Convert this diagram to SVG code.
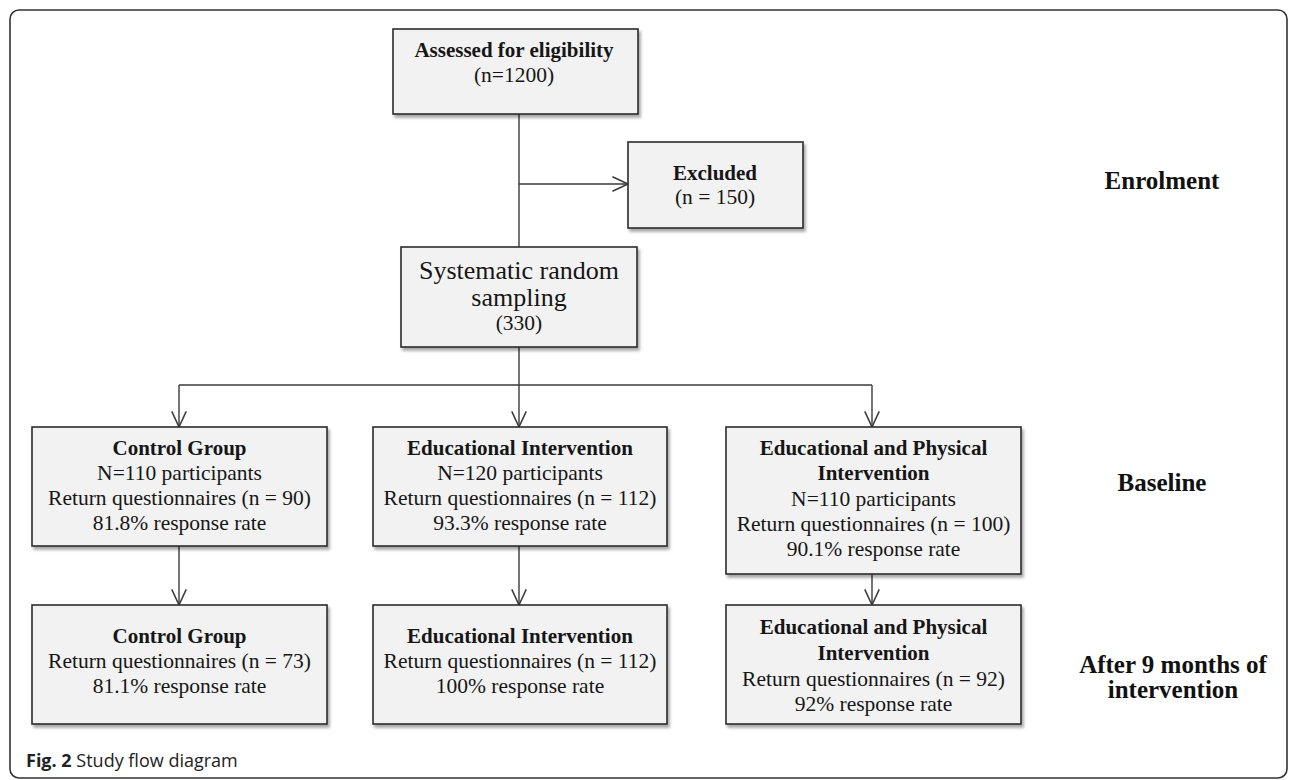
<svg xmlns="http://www.w3.org/2000/svg" width="1290" height="780" viewBox="0 0 1290 780">
<defs>
<filter id="sh" x="-5%" y="-5%" width="115%" height="120%">
<feDropShadow dx="2" dy="3" stdDeviation="1.5" flood-color="#000" flood-opacity="0.35"/>
</filter>
<marker id="arr" markerUnits="userSpaceOnUse" markerWidth="20" markerHeight="20" viewBox="-16 -8 18 16" refX="0" refY="0" orient="auto">
<path d="M-14,-6.5 L0,0 L-14,6.5" fill="none" stroke="#3a3a3a" stroke-width="1.4"/>
</marker>
<style>
.box{fill:#f2f2f2;stroke:#2b2b2b;stroke-width:1.6;filter:url(#sh)}
.t{font-family:"Liberation Serif","Times New Roman",serif;font-size:21.5px;fill:#161616;text-anchor:middle}
.b{font-weight:bold;font-size:21px}
.big{font-size:26px}
.lab{font-family:"Liberation Serif","Times New Roman",serif;font-size:25px;font-weight:bold;fill:#111;text-anchor:middle}
.c{fill:none;stroke:#3a3a3a;stroke-width:1.4}
.cap{font-family:"Open Sans","Noto Sans",sans-serif;font-size:18px;fill:#222}
</style>
</defs>
<rect x="10" y="10" width="1277" height="768" rx="9" ry="9" fill="#fff" stroke="#333" stroke-width="1.6"/>

<g id="connectors">
<line class="c" x1="519" y1="114" x2="519" y2="247"/>
<line class="c" x1="519" y1="184" x2="628" y2="184" marker-end="url(#arr)"/>
<line class="c" x1="519" y1="347" x2="519" y2="385"/>
<line class="c" x1="179" y1="385" x2="872" y2="385"/>
<line class="c" x1="179" y1="385" x2="179" y2="427" marker-end="url(#arr)"/>
<line class="c" x1="519" y1="385" x2="519" y2="427" marker-end="url(#arr)"/>
<line class="c" x1="872" y1="385" x2="872" y2="427" marker-end="url(#arr)"/>
<line class="c" x1="179" y1="546" x2="179" y2="605" marker-end="url(#arr)"/>
<line class="c" x1="519" y1="546" x2="519" y2="605" marker-end="url(#arr)"/>
<line class="c" x1="872" y1="574" x2="872" y2="605" marker-end="url(#arr)"/>
</g>

<g id="assessed">
<rect class="box" x="393" y="29" width="245" height="85"/>
<text class="t b" x="514" y="57">Assessed for eligibility</text>
<text class="t" x="514" y="82">(n=1200)</text>
</g>

<g id="excluded">
<rect class="box" x="628" y="142" width="175" height="86"/>
<text class="t b" x="715" y="180">Excluded</text>
<text class="t" x="715" y="204">(n = 150)</text>
</g>

<g id="sampling">
<rect class="box" x="401" y="247" width="236" height="100"/>
<text class="t big" x="519" y="279">Systematic random</text>
<text class="t big" x="519" y="306">sampling</text>
<text class="t" x="519" y="330">(330)</text>
</g>

<g id="control-baseline">
<rect class="box" x="32" y="427" width="295" height="119"/>
<text class="t b" x="179.5" y="455">Control Group</text>
<text class="t" x="179.5" y="480">N=110 participants</text>
<text class="t" x="179.5" y="505">Return questionnaires (n = 90)</text>
<text class="t" x="179.5" y="530">81.8% response rate</text>
</g>

<g id="edu-baseline">
<rect class="box" x="373" y="427" width="294" height="119"/>
<text class="t b" x="520" y="455">Educational Intervention</text>
<text class="t" x="520" y="480">N=120 participants</text>
<text class="t" x="520" y="505">Return questionnaires (n = 112)</text>
<text class="t" x="520" y="530">93.3% response rate</text>
</g>

<g id="edphys-baseline">
<rect class="box" x="726" y="427" width="295" height="147"/>
<text class="t b" x="873.5" y="455">Educational and Physical</text>
<text class="t b" x="873.5" y="480">Intervention</text>
<text class="t" x="873.5" y="506">N=110 participants</text>
<text class="t" x="873.5" y="531">Return questionnaires (n = 100)</text>
<text class="t" x="873.5" y="556">90.1% response rate</text>
</g>

<g id="control-after">
<rect class="box" x="32" y="605" width="295" height="119"/>
<text class="t b" x="179.5" y="643">Control Group</text>
<text class="t" x="179.5" y="668">Return questionnaires (n = 73)</text>
<text class="t" x="179.5" y="693">81.1% response rate</text>
</g>

<g id="edu-after">
<rect class="box" x="373" y="605" width="294" height="119"/>
<text class="t b" x="520" y="643">Educational Intervention</text>
<text class="t" x="520" y="668">Return questionnaires (n = 112)</text>
<text class="t" x="520" y="693">100% response rate</text>
</g>

<g id="edphys-after">
<rect class="box" x="726" y="605" width="295" height="119"/>
<text class="t b" x="873.5" y="634">Educational and Physical</text>
<text class="t b" x="873.5" y="660">Intervention</text>
<text class="t" x="873.5" y="686">Return questionnaires (n = 92)</text>
<text class="t" x="873.5" y="711">92% response rate</text>
</g>

<g id="labels">
<text class="lab" x="1162" y="189">Enrolment</text>
<text class="lab" x="1162" y="491">Baseline</text>
<text class="lab" x="1173" y="673">After 9 months of</text>
<text class="lab" x="1173" y="698">intervention</text>
</g>

<g id="caption">
<text class="cap" x="26" y="767"><tspan font-weight="bold">Fig. 2</tspan> Study flow diagram</text>
</g>
</svg>
